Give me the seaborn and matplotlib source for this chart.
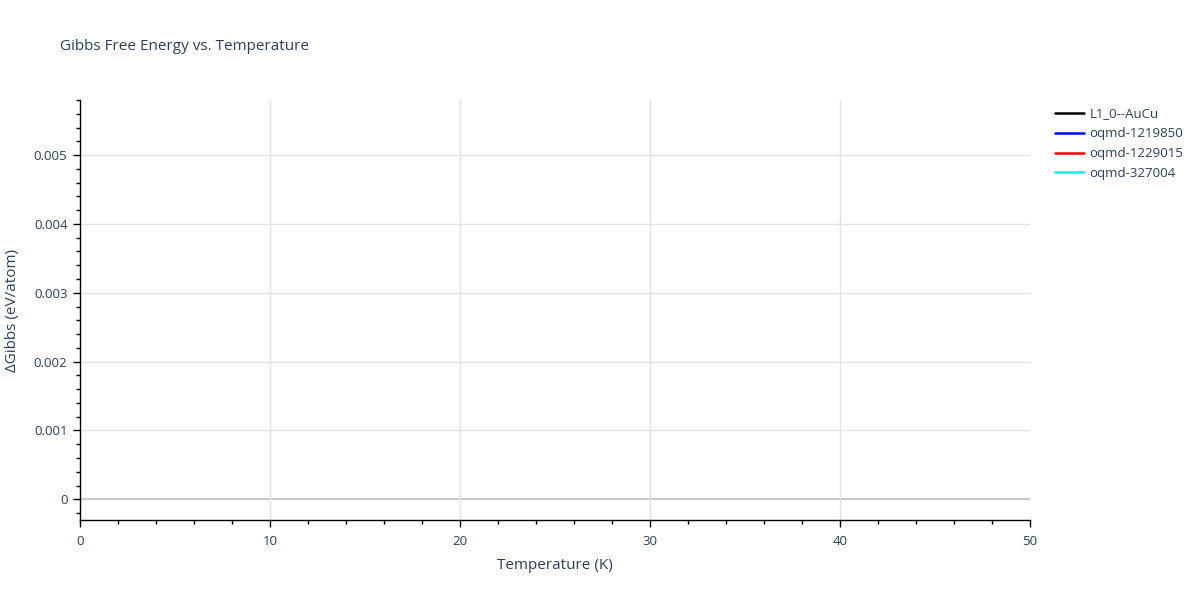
import matplotlib
matplotlib.use("Agg")
import matplotlib.pyplot as plt
import seaborn as sns
import pandas as pd
from matplotlib.ticker import MultipleLocator, FuncFormatter

# ---- data (no points fall inside the visible window) ----
series_names = ["L1_0--AuCu", "oqmd-1219850", "oqmd-1229015", "oqmd-327004"]
series_colors = ["black", "blue", "red", "cyan"]
temperature = {name: [] for name in series_names}
delta_gibbs = {name: [] for name in series_names}

x_ticks = [0, 10, 20, 30, 40, 50]
y_ticks = [0, 0.001, 0.002, 0.003, 0.004, 0.005]

sns.set_theme(style="white")
plt.rcParams['font.family'] = ['Open Sans', 'DejaVu Sans']
txt = "#2a3f5f"

fig = plt.figure(figsize=(12, 6), dpi=100)
ax = fig.add_axes([80/1200, 1 - 520/600, (1030-80)/1200, (520-100)/600])

for name, col in zip(series_names, series_colors):
    df = pd.DataFrame({"T": pd.Series(temperature[name], dtype=float),
                       "G": pd.Series(delta_gibbs[name], dtype=float)})
    if len(df):
        sns.lineplot(data=df, x="T", y="G", ax=ax, color=col, label=name, lw=1.8)
    else:
        ax.plot(df["T"], df["G"], color=col, label=name, lw=1.8)

ax.set_xlim(0, 50)
ax.set_ylim(-0.0003, 0.0058)
ax.set_xticks(x_ticks)
ax.set_yticks(y_ticks)
ax.xaxis.set_minor_locator(MultipleLocator(2))
ax.yaxis.set_minor_locator(MultipleLocator(0.0002))
ax.yaxis.set_major_formatter(FuncFormatter(lambda v, p: "0" if abs(v) < 1e-12 else f"{v:.3f}"))

for y in y_ticks:
    ax.axhline(y, color="#c8c8c8" if y == 0 else "#e2e2e2", lw=1.5 if y == 0 else 1, zorder=0)
for x in x_ticks[1:-1]:
    ax.axvline(x, color="#e2e2e2", lw=1, zorder=0)

for s in ["top", "right"]:
    ax.spines[s].set_visible(False)
for s in ["left", "bottom"]:
    ax.spines[s].set_color("black")
    ax.spines[s].set_linewidth(1)

ax.tick_params(axis="both", which="major", direction="out", length=5, width=1,
               color="black", labelsize=9.5, labelcolor=txt, left=True, bottom=True)
ax.tick_params(axis="both", which="minor", direction="out", length=3, width=1,
               color="black", left=True, bottom=True)
ax.tick_params(axis="y", pad=4)
ax.tick_params(axis="x", pad=6)

ax.set_xlabel("Temperature (K)", fontsize=11, color=txt, labelpad=7)
ax.set_ylabel("ΔGibbs (eV/atom)", fontsize=11, color=txt, labelpad=10)

fig.text(60/1200, 1 - 47/600, "Gibbs Free Energy vs. Temperature", fontsize=11,
         color=txt, va="center", ha="left")

h, l = ax.get_legend_handles_labels()
leg = fig.legend(h, l, loc="upper left", bbox_to_anchor=(1055/1200, 1 - 107.5/600),
                 frameon=False, fontsize=9.5, handlelength=2.2, handletextpad=0.4,
                 labelspacing=0.52, borderpad=0, borderaxespad=0)
for t in leg.get_texts():
    t.set_color(txt)

fig.savefig("out.png", dpi=100)
